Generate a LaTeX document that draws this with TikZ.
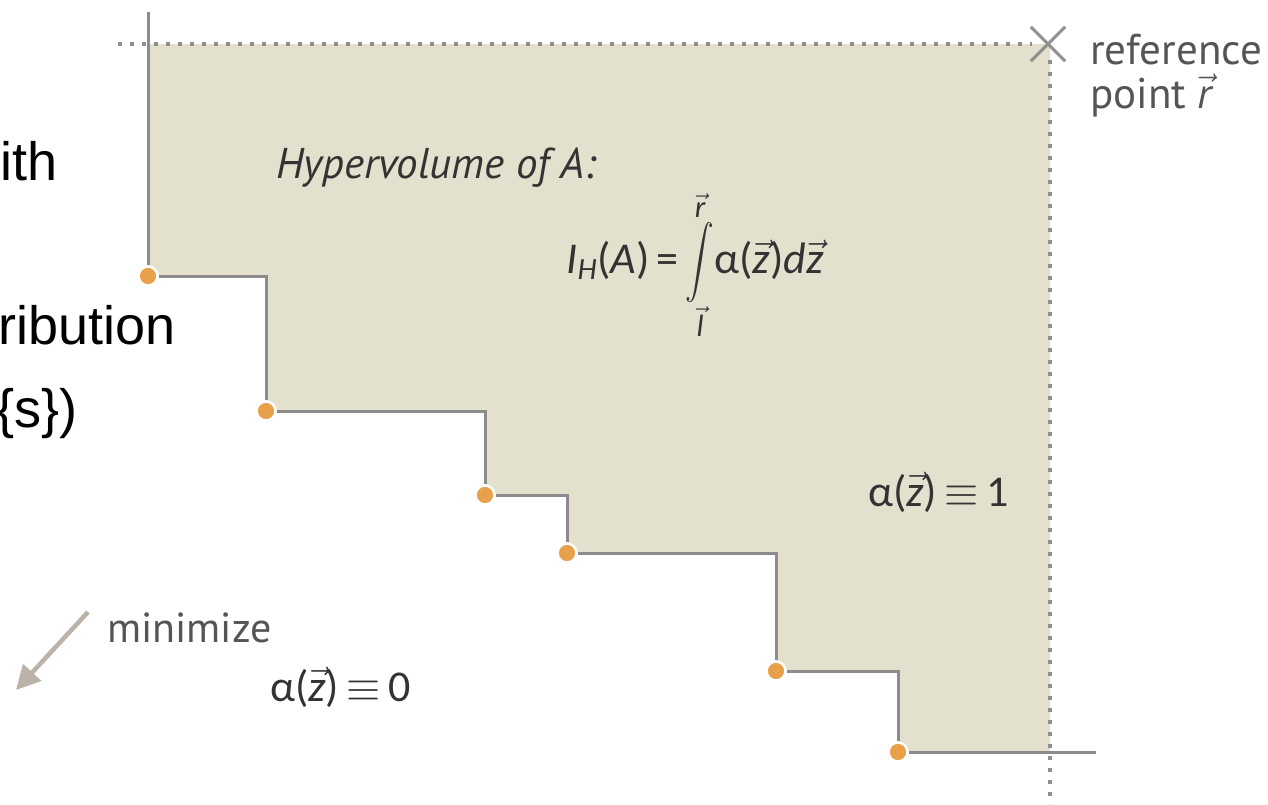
\RequirePackage{fix-cm}
\documentclass[tikz,border=0pt]{standalone}
\usepackage{amsmath}
\usepackage{graphicx}
\usepackage{fontspec}
\setmainfont{PT Sans}
\newfontfamily\arialf{Liberation Sans}
\newfontfamily\calf{Carlito}
\usetikzlibrary{arrows.meta}
\definecolor{hvfill}{HTML}{E3E0CD}
\definecolor{lgray}{HTML}{8C8C8C}
\definecolor{dgray}{HTML}{8F8F8F}
\definecolor{dotor}{HTML}{E9A04B}
\definecolor{tgray}{HTML}{333333}
\definecolor{lbl}{HTML}{555555}
\definecolor{atan}{HTML}{BBB2A8}
\tikzset{
  pt/.style={circle, fill=dotor, draw=white, line width=2.5, minimum size=19, inner sep=0},
  stair/.style={draw=lgray, line width=3},
  dots/.style={draw=dgray, line width=3.5, dash pattern=on 3.5 off 8.5},
  bigtxt/.style={font=\arialf\fontsize{54}{60}\selectfont, text=black, inner sep=0},
  formula/.style={font=\calf\fontsize{44}{50}\selectfont, text=tgray, inner sep=0},
  lab/.style={font=\fontsize{43}{45}\selectfont, text=lbl, inner sep=0, align=left},
}
\begin{document}
\begin{tikzpicture}[x=1pt,y=-1pt]
\useasboundingbox (0,0) rectangle (1268,804);
% dots on the front
\node[pt] (p1) at (148,276) {};
\node[pt] (p2) at (266,411) {};
\node[pt] (p3) at (485,495) {};
\node[pt] (p4) at (567,553) {};
\node[pt] (p5) at (776,671) {};
\node[pt] (p6) at (898,752) {};
\coordinate (tl) at (148,44);
\coordinate (tr) at (1050,44);
\coordinate (br) at (1050,752);
\coordinate (top) at (148,12);
\coordinate (bend) at (1096,752);
\coordinate (dl) at (118,44);
\coordinate (db) at (1050,804);
% shaded dominated region
\fill[hvfill] (tl) -- (tr) -- (br) -- (p6.center) |- (p5.center) |- (p4.center) |- (p3.center) |- (p2.center) |- (p1.center) -- cycle;
% dotted reference lines
\draw[dots] (dl) -- (1032,44);
\draw[dots] (1050,60) -- (db);
% reference point cross
\node[inner sep=0, minimum size=34] (ref) at (1048,44) {};
\draw[draw=dgray, line width=3] (ref.north west) -- (ref.south east) (ref.north east) -- (ref.south west);
% staircase
\draw[stair] (top) -- (p1);
\draw[stair] (p1) -| (p2);
\draw[stair] (p2) -| (p3);
\draw[stair] (p3) -| (p4);
\draw[stair] (p4) -| (p5);
\draw[stair] (p5) -| (p6);
\draw[stair] (p6) -- (bend);
% redraw dots on top
\foreach \p in {p1,p2,p3,p4,p5,p6} \node[pt] at (\p) {};
% left cut-off texts
\node[bigtxt, anchor=base west] (t1) at (0,180) {ith};
\node[bigtxt, anchor=base west] (t2) at (-2,344) {ribution};
\node[bigtxt, anchor=base west] (t3) at (-4,427) {\{s\})};
% labels
\node[anchor=base west, font=\itshape\fontsize{43}{45}\selectfont, text=tgray, inner sep=0] (hvt) at (276,178) {Hypervolume of A:};
\node[formula] (hv) at (695,265) {\textit{I}\textsubscript{\textit{H}}(\textit{A})\,=\,$\mathop{\vcenter{\hbox{\scalebox{1.15}[1.45]{$\displaystyle\int$}}}}\limits_{\vec{\textit{l}}}^{\vec{\textit{r}}}$α($\vec{\textit{z}}$)\textit{d}$\vec{\textit{z}}$};
\node[formula, anchor=base west] (a1) at (868,506) {α($\vec{\textit{z}}$)\,$\equiv$\,1};
\node[formula, anchor=base west] (a0) at (270,701) {α($\vec{\textit{z}}$)\,$\equiv$\,0};
\node[lab, anchor=base west] (rp1) at (1090,64) {reference};
\node[lab, anchor=base west] (rp2) at (1090,108) {point $\vec{\textit{r}}$};
\node[lab, anchor=base west, font=\fontsize{42}{44}\selectfont] (mn) at (107,642) {minimize};
\coordinate (as) at (88,612);
\coordinate (ae) at (16,690);
\draw[atan, line width=4.5, -{Triangle[length=24,width=24]}] (as) -- (ae);
\end{tikzpicture}
\end{document}
